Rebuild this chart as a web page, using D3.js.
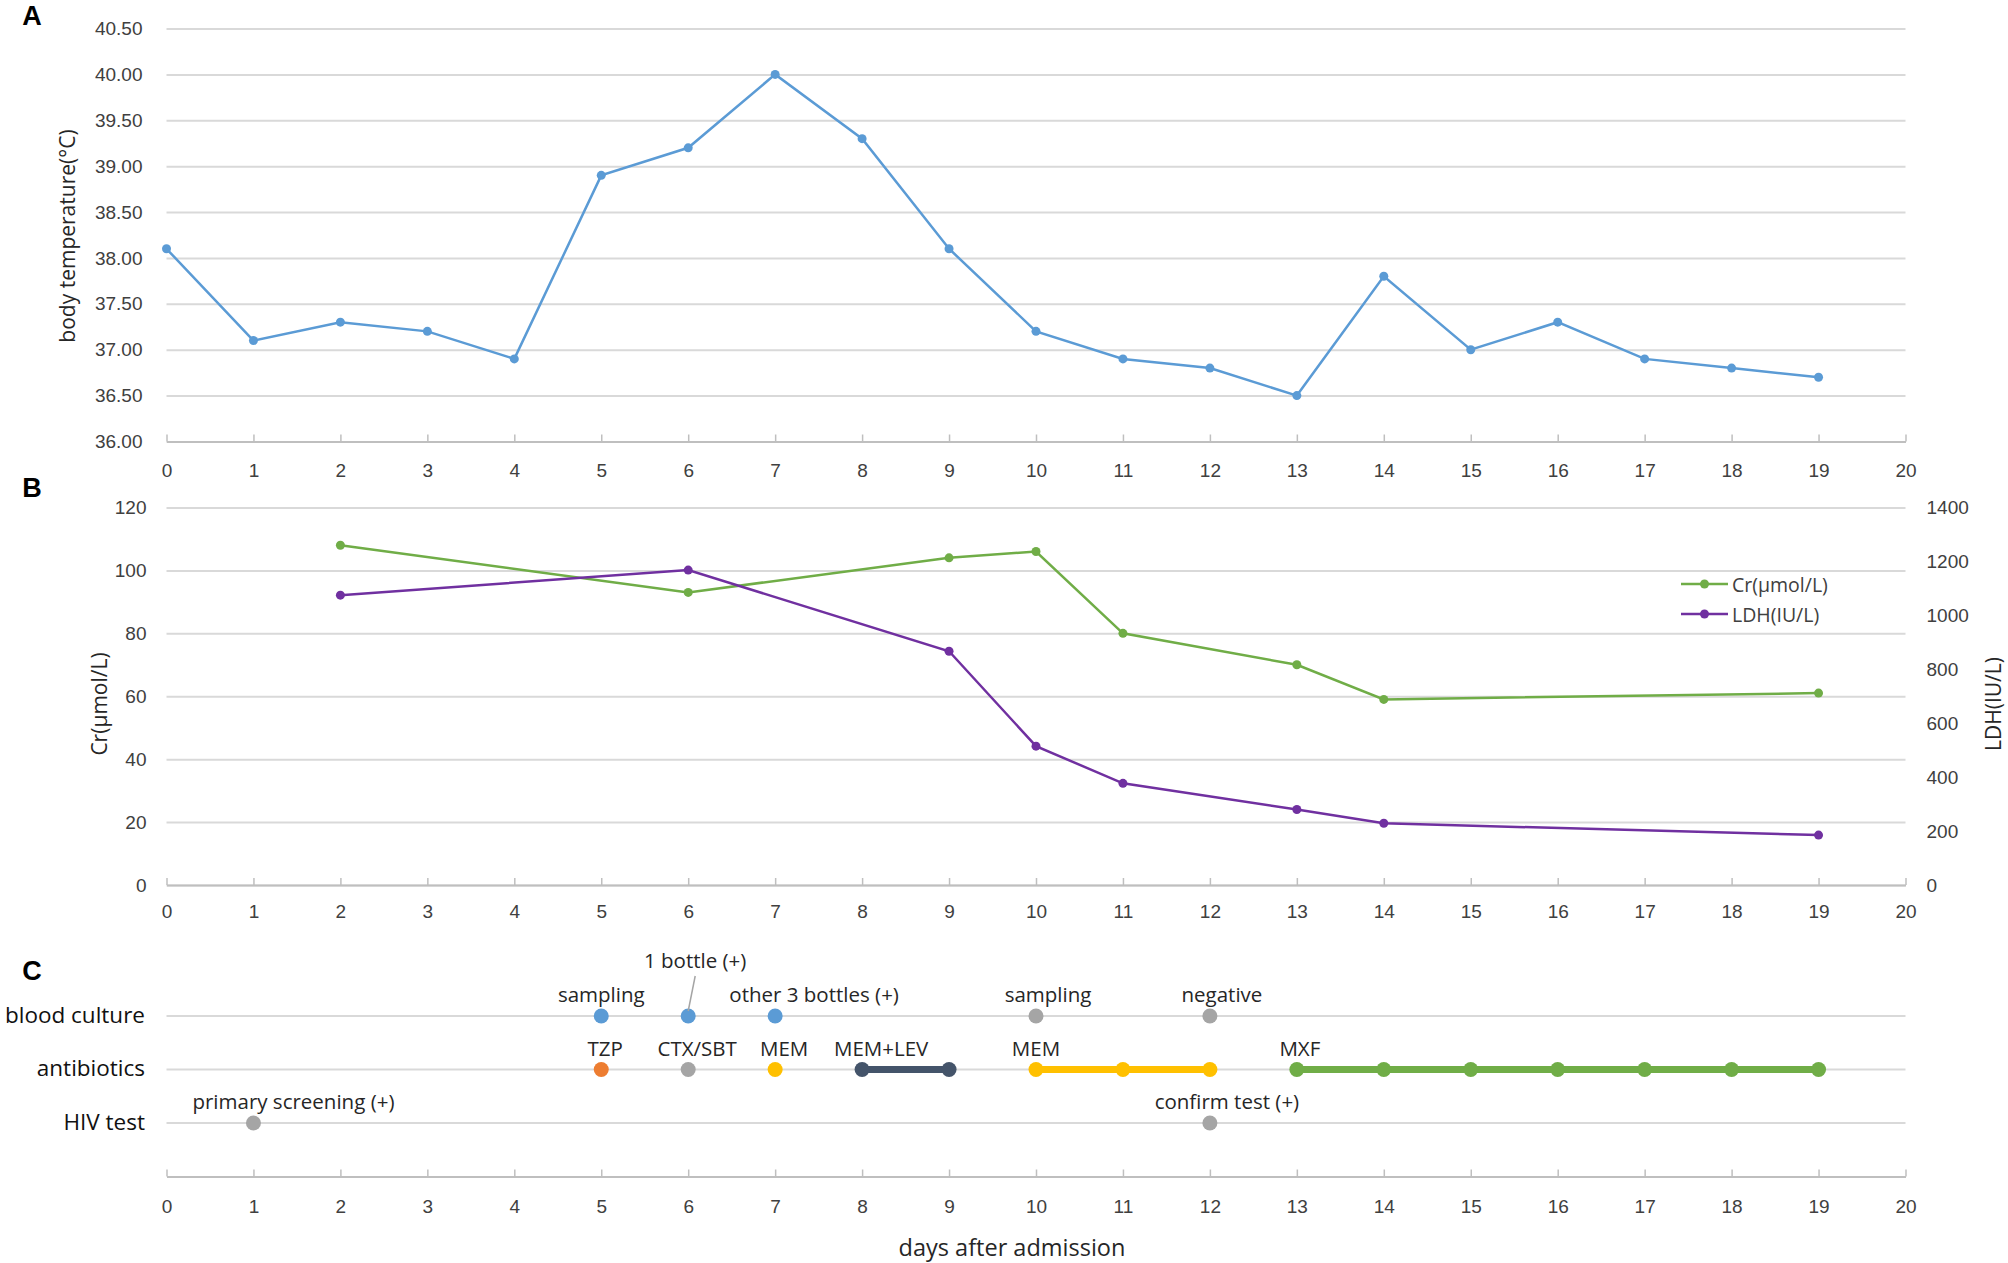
<!DOCTYPE html>
<html>
<head>
<meta charset="utf-8">
<script src="https://cdn.jsdelivr.net/npm/d3@7/dist/d3.min.js"></script>
<style>
  html, body { margin: 0; padding: 0; background: #ffffff; }
  svg { display: block; font-family: "Open Sans", "Noto Sans", sans-serif; }
</style>
</head>
<body>
<svg id="chart" width="2008" height="1263"></svg>
<script>
// ---------------- DATA ----------------
const dayTicks = [0,1,2,3,4,5,6,7,8,9,10,11,12,13,14,15,16,17,18,19,20];

// Panel A: body temperature
const tempDays = [0,1,2,3,4,5,6,7,8,9,10,11,12,13,14,15,16,17,18,19];
const temperature = [38.1,37.1,37.3,37.2,36.9,38.9,39.2,40.0,39.3,38.1,37.2,36.9,36.8,36.5,37.8,37.0,37.3,36.9,36.8,36.7];
const tempTicks = [36.0,36.5,37.0,37.5,38.0,38.5,39.0,39.5,40.0,40.5];

// Panel B: Cr and LDH
const labDays = [2,6,9,10,11,13,14,19];
const crValues = [108,93,104,106,80,70,59,61];
const ldhValues = [1075,1168,867,515,377,280,229,185];
const crTicks = [0,20,40,60,80,100,120];
const ldhTicks = [0,200,400,600,800,1000,1200,1400];
const seriesNames = ["Cr(μmol/L)","LDH(IU/L)"];

// Panel C: timeline
const rowNames = ["blood culture","antibiotics","HIV test"];
const cultureDays = [5,6,7,10,12];
const cultureLabels = ["sampling","1 bottle (+)","other 3 bottles (+)","sampling","negative"];
const cultureRound = ["first","first","first","second","second"];
const regimenNames = ["TZP","CTX/SBT","MEM","MEM+LEV","MEM","MXF"];
const regimenStart = [5,6,7,8,10,13];
const regimenEnd = [5,6,7,9,12,19];
const hivDays = [1,12];
const hivLabels = ["primary screening (+)","confirm test (+)"];

// ---------------- STYLES ----------------
const C = {
  blue: "#5B9BD5", green: "#70AD47", purple: "#7030A0", gray: "#A5A5A5",
  orange: "#ED7D31", yellow: "#FFC000", navy: "#44546A",
  grid: "#D9D9D9", axis: "#BFBFBF", tick: "#404040", text: "#262626"
};
const roundColor = {first: C.blue, second: C.gray};
const regimenColor = {"TZP": C.orange, "CTX/SBT": C.gray, "MEM": C.yellow, "MEM+LEV": C.navy, "MXF": C.green};

const svg = d3.select("#chart");
const x = d3.scaleLinear().domain([0,20]).range([166.5,1905.5]);

function styleAxisText(g, size) {
  g.selectAll("text").attr("fill", C.tick).style("font-size", size + "px");
}
function bottomAxis(yPos, pad) {
  const g = svg.append("g").attr("transform", `translate(0,${yPos})`)
    .call(d3.axisBottom(x).tickValues(dayTicks).tickFormat(d3.format("d"))
      .tickSizeInner(-7).tickSizeOuter(0).tickPadding(pad));
  g.select(".domain").attr("stroke", C.axis).attr("stroke-width", 2);
  g.selectAll(".tick line").attr("stroke", C.axis).attr("stroke-width", 1.5);
  styleAxisText(g, 19);
  return g;
}
function panelLetter(t, yb) {
  svg.append("text").attr("x", 32).attr("y", yb).attr("text-anchor", "middle")
    .attr("font-family", "Liberation Sans, Arial, sans-serif").attr("font-weight", "bold")
    .attr("font-size", 27).attr("fill", "#000").text(t);
}

// ---------------- PANEL A ----------------
const yA = d3.scaleLinear().domain([36,40.5]).range([441.5,28.5]);
{
  const g = svg.append("g").attr("transform", `translate(${x(0)},0)`)
    .call(d3.axisLeft(yA).tickValues(tempTicks).tickFormat(d3.format(".2f"))
      .tickSize(-(x(20)-x(0))).tickPadding(24));
  g.select(".domain").remove();
  g.selectAll(".tick line").attr("stroke", C.grid).attr("stroke-width", 2);
  styleAxisText(g, 19);
  bottomAxis(yA(36), 22);

  const line = d3.line().x((d,i)=>x(tempDays[i])).y(d=>yA(d));
  svg.append("path").datum(temperature).attr("d", line)
    .attr("fill","none").attr("stroke", C.blue).attr("stroke-width", 2.5);
  svg.append("g").selectAll("circle").data(temperature).join("circle")
    .attr("cx",(d,i)=>x(tempDays[i])).attr("cy",d=>yA(d)).attr("r",4.5).attr("fill",C.blue);

  svg.append("text").attr("transform","translate(67,236) rotate(-90)")
    .attr("text-anchor","middle").attr("dominant-baseline","central")
    .attr("font-size",21).attr("fill",C.text).text("body temperature(°C)");
  panelLetter("A", 25);
}

// ---------------- PANEL B ----------------
const yB = d3.scaleLinear().domain([0,120]).range([885,507.5]);
const yB2 = d3.scaleLinear().domain([0,1400]).range([885,507.5]);
{
  const g = svg.append("g").attr("transform", `translate(${x(0)},0)`)
    .call(d3.axisLeft(yB).tickValues(crTicks).tickFormat(d3.format("d"))
      .tickSize(-(x(20)-x(0))).tickPadding(20));
  g.select(".domain").remove();
  g.selectAll(".tick line").attr("stroke", C.grid).attr("stroke-width", 2);
  styleAxisText(g, 19);

  const g2 = svg.append("g").attr("transform", `translate(${x(20)},0)`)
    .call(d3.axisRight(yB2).tickValues(ldhTicks).tickFormat(d3.format("d"))
      .tickSize(0).tickPadding(21));
  g2.select(".domain").remove();
  styleAxisText(g2, 19);

  bottomAxis(yB(0), 20);

  const crLine = d3.line().x((d,i)=>x(labDays[i])).y(d=>yB(d));
  const ldhLine = d3.line().x((d,i)=>x(labDays[i])).y(d=>yB2(d));
  svg.append("path").datum(crValues).attr("d", crLine)
    .attr("fill","none").attr("stroke", C.green).attr("stroke-width", 2.5);
  svg.append("path").datum(ldhValues).attr("d", ldhLine)
    .attr("fill","none").attr("stroke", C.purple).attr("stroke-width", 2.5);
  svg.append("g").selectAll("circle").data(crValues).join("circle")
    .attr("cx",(d,i)=>x(labDays[i])).attr("cy",d=>yB(d)).attr("r",4.5).attr("fill",C.green);
  svg.append("g").selectAll("circle").data(ldhValues).join("circle")
    .attr("cx",(d,i)=>x(labDays[i])).attr("cy",d=>yB2(d)).attr("r",4.5).attr("fill",C.purple);

  // legend
  const legColors = [C.green, C.purple];
  const leg = svg.append("g").selectAll("g").data(seriesNames).join("g")
    .attr("transform",(d,i)=>`translate(1681,${584 + i*30})`);
  leg.append("line").attr("x1",0).attr("x2",47).attr("y1",0).attr("y2",0)
    .attr("stroke",(d,i)=>legColors[i]).attr("stroke-width",2.5);
  leg.append("circle").attr("cx",23.5).attr("cy",0).attr("r",4.5).attr("fill",(d,i)=>legColors[i]);
  leg.append("text").attr("x",51).attr("y",0).attr("dominant-baseline","central")
    .attr("font-size",19.5).attr("fill",C.tick).text(d=>d);

  svg.append("text").attr("transform","translate(99,704) rotate(-90)")
    .attr("text-anchor","middle").attr("dominant-baseline","central")
    .attr("font-size",21).attr("fill",C.text).text("Cr(μmol/L)");
  svg.append("text").attr("transform","translate(1993,704) rotate(-90)")
    .attr("text-anchor","middle").attr("dominant-baseline","central")
    .attr("font-size",21).attr("fill",C.text).text("LDH(IU/L)");
  panelLetter("B", 497);
}

// ---------------- PANEL C ----------------
const yC = d3.scalePoint().domain(rowNames).range([1016,1123]);
{
  // row lines
  svg.append("g").selectAll("line").data(rowNames).join("line")
    .attr("x1", x(0)).attr("x2", x(20)).attr("y1", d=>yC(d)).attr("y2", d=>yC(d))
    .attr("stroke", C.grid).attr("stroke-width", 2);
  svg.append("g").selectAll("text").data(rowNames).join("text")
    .attr("x", 145).attr("y", d=>yC(d) - 2).attr("text-anchor","end").attr("dominant-baseline","central")
    .attr("font-size", 22.5).attr("fill", "#111").text(d=>d);

  bottomAxis(1176.5, 23);

  const labelGap = 22;
  const fs = 20.5;
  // blood culture
  const cultureDx = [0, 7, 39, 12, 12];
  const yb = yC("blood culture");
  svg.append("g").selectAll("circle").data(cultureDays).join("circle")
    .attr("cx", d=>x(d)).attr("cy", yb).attr("r", 7.5)
    .attr("fill", (d,i)=>roundColor[cultureRound[i]]);
  cultureLabels.forEach((t,i)=>{
    const raised = (i === 1);
    const ly = raised ? yb - 56 : yb - labelGap;
    svg.append("text").attr("x", x(cultureDays[i]) + cultureDx[i]).attr("y", ly)
      .attr("text-anchor","middle").attr("dominant-baseline","central")
      .attr("font-size", fs).attr("fill", C.text).text(t);
    if (raised) {
      svg.append("line").attr("x1", x(cultureDays[i]) + cultureDx[i]).attr("y1", ly + 16)
        .attr("x2", x(cultureDays[i])).attr("y2", yb - 5)
        .attr("stroke", C.gray).attr("stroke-width", 1.5);
    }
  });

  // antibiotics
  const ya = yC("antibiotics");
  const regimenDx = [4, 9, 9, 19, 0, 3];
  regimenNames.forEach((name,i)=>{
    const col = regimenColor[name];
    const ds = d3.range(regimenStart[i], regimenEnd[i] + 1);
    if (ds.length > 1) {
      svg.append("line").attr("x1", x(regimenStart[i])).attr("x2", x(regimenEnd[i]))
        .attr("y1", ya).attr("y2", ya).attr("stroke", col).attr("stroke-width", 7);
    }
    svg.append("g").selectAll("circle").data(ds).join("circle")
      .attr("cx", d=>x(d)).attr("cy", ya).attr("r", 7.5).attr("fill", col);
    svg.append("text").attr("x", x(regimenStart[i]) + regimenDx[i]).attr("y", ya - labelGap)
      .attr("text-anchor","middle").attr("dominant-baseline","central")
      .attr("font-size", fs).attr("fill", C.text).text(name);
  });

  // HIV test
  const yh = yC("HIV test");
  const hivDx = [40, 17];
  svg.append("g").selectAll("circle").data(hivDays).join("circle")
    .attr("cx", d=>x(d)).attr("cy", yh).attr("r", 7.5).attr("fill", C.gray);
  svg.append("g").selectAll("text").data(hivLabels).join("text")
    .attr("x", (d,i)=>x(hivDays[i]) + hivDx[i]).attr("y", yh - labelGap)
    .attr("text-anchor","middle").attr("dominant-baseline","central")
    .attr("font-size", fs).attr("fill", C.text).text(d=>d);

  svg.append("text").attr("x", 1012).attr("y", 1247).attr("text-anchor","middle")
    .attr("dominant-baseline","central").attr("font-size", 23.5).attr("fill", C.text)
    .text("days after admission");
  panelLetter("C", 980);
}
</script>
</body>
</html>
